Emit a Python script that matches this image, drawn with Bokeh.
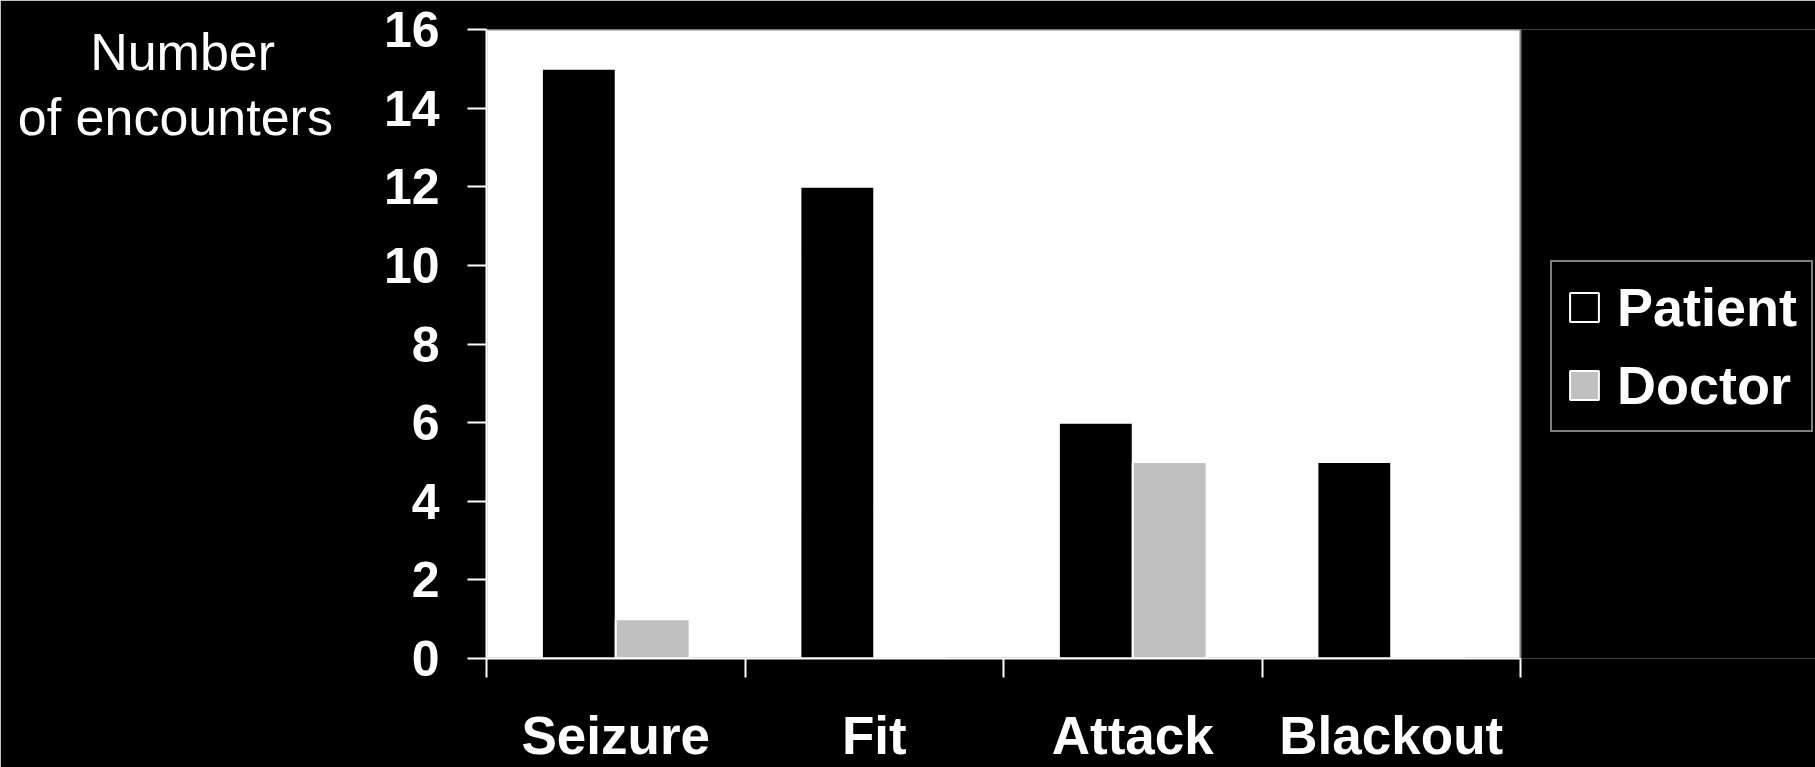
from bokeh.plotting import figure
from bokeh.models import (Range1d, FixedTicker, LinearAxis, Legend,
                          LegendItem, ColumnDataSource)
from bokeh.embed import file_html
from bokeh.resources import INLINE

# Data
categories = ["Seizure", "Fit", "Attack", "Blackout"]
patient = [15, 12, 6, 5]
doctor = [1, 0, 5, 0]
y_ticks = [0, 2, 4, 6, 8, 10, 12, 14, 16]

FONT = "Liberation Sans"

n = len(categories)
y_max = y_ticks[-1]
bar_w = 1 / 3.5          # clustered bars with a 150% gap
patient_x = [i + 0.5 - bar_w / 2 for i in range(n)]
doctor_x = [i + 0.5 + bar_w / 2 for i in range(n)]

src = ColumnDataSource(dict(px=patient_x, dx=doctor_x,
                            patient=patient, doctor=doctor))

# The frame runs to the right edge of the canvas so the legend can sit
# beside the chart box; the chart box itself spans x = 0..n.
PLOT_W, PLOT_H = 1815, 767
LEFT, TOP, BOTTOM = 486, 29, 109
CHART_W = 1034
x_end = n * (PLOT_W - LEFT) / CHART_W

p = figure(width=PLOT_W, height=PLOT_H, output_backend="svg",
           toolbar_location=None,
           x_range=Range1d(0, x_end), y_range=Range1d(0, y_max),
           x_axis_type=None, y_axis_type=None,
           min_border_left=LEFT, min_border_right=0,
           min_border_top=TOP, min_border_bottom=BOTTOM)

p.background_fill_color = "black"
p.border_fill_color = "black"
p.outline_line_color = None
p.grid.visible = False

# white chart box with grey top/right edges
p.quad(left=0, right=n, bottom=0, top=y_max, fill_color="white",
       line_color="#808080", line_width=2)

r_pat = p.vbar(x="px", top="patient", width=bar_w, source=src,
               fill_color="black", line_color="white", line_width=2)
r_doc = p.vbar(x="dx", top="doctor", width=bar_w, source=src,
               fill_color="#c0c0c0", line_color="white", line_width=2)

# y axis; its horizontal two-line title is padded with trailing blank
# lines so that, centred on the axis, it lands at the top
yax = LinearAxis(ticker=FixedTicker(ticks=y_ticks))
yax.axis_line_color = "white"
yax.axis_line_width = 2
yax.major_tick_line_color = "white"
yax.major_tick_line_width = 2
yax.major_tick_out = 19
yax.major_tick_in = 0
yax.minor_tick_line_color = None
yax.major_label_text_color = "white"
yax.major_label_text_font = FONT
yax.major_label_text_font_style = "bold"
yax.major_label_text_font_size = "50px"
yax.major_label_standoff = 28
yax.axis_label = "Number" + "\u00a0" * 4 + "\nof encounters" + "\n" * 8
yax.axis_label_orientation = "horizontal"
yax.axis_label_align = "center"
yax.axis_label_standoff = 48
yax.axis_label_text_color = "white"
yax.axis_label_text_font = FONT
yax.axis_label_text_font_style = "normal"
yax.axis_label_text_font_size = "52px"
yax.axis_label_text_line_height = 1.12
p.add_layout(yax, "left")

# x axis: tick marks at category boundaries
xax = LinearAxis(ticker=FixedTicker(ticks=list(range(n + 1))), bounds=(0, n))
xax.axis_line_color = "white"
xax.axis_line_width = 2
xax.major_tick_line_color = "white"
xax.major_tick_line_width = 2
xax.major_tick_out = 19
xax.major_tick_in = 0
xax.minor_tick_line_color = None
xax.major_label_overrides = {i: "" for i in range(n + 1)}
xax.major_label_text_font_size = "0px"
xax.major_label_standoff = 0
p.add_layout(xax, "below")

# x axis: category names centred under each group
cax = LinearAxis(ticker=FixedTicker(ticks=[i + 0.5 for i in range(n)]))
cax.axis_line_color = None
cax.major_tick_line_color = None
cax.minor_tick_line_color = None
cax.major_label_overrides = {i + 0.5: c for i, c in enumerate(categories)}
cax.major_label_text_color = "white"
cax.major_label_text_font = FONT
cax.major_label_text_font_style = "bold"
cax.major_label_text_font_size = "53px"
cax.major_label_standoff = 22
p.add_layout(cax, "below")

legend = Legend(items=[LegendItem(label="Patient", renderers=[r_pat]),
                       LegendItem(label="Doctor", renderers=[r_doc])],
                location=(1064, 226))
legend.background_fill_color = "black"
legend.background_fill_alpha = 1
legend.border_line_color = "white"
legend.border_line_width = 2
legend.label_text_color = "white"
legend.label_text_font = FONT
legend.label_text_font_style = "bold"
legend.label_text_font_size = "54px"
legend.glyph_width = 36
legend.glyph_height = 36
legend.label_standoff = 15
legend.spacing = 16
legend.padding = 14
legend.margin = 0
p.add_layout(legend, "center")

open("out.html", "w").write(file_html(p, INLINE))
